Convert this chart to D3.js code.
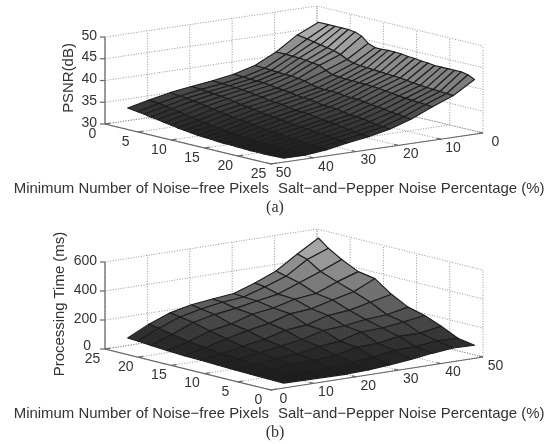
<!DOCTYPE html>
<html>
<head>
<meta charset="utf-8">
<script src="https://cdn.jsdelivr.net/npm/d3@7"></script>
<style>
	html, body { margin: 0; padding: 0; background: #fff; }
	svg { display: block; filter: blur(0.35px); }
	text { font-family: "Liberation Sans", Arial, sans-serif; fill: #333; }
	text.caption { font-family: "Liberation Serif", serif; }
</style>
</head>
<body>
<svg id="chart" width="550" height="444"></svg>
<script>
// panel (a): PSNR, one row per noise percentage, one column per noise-free pixel count
const psnrPixels = [1.5, 3, 4, 5, 6, 7, 8, 9, 10, 11, 12, 13, 14, 15, 16, 17, 18, 19, 20, 21, 22, 23, 24, 25];
const psnrNoise = [2, 7, 12, 17, 22, 27, 32, 37, 42, 47];
const psnrValues = [
	[47.1,47.1,47.1,47.1,47.1,46.9,46.3,45.0,44.4,44.4,44.5,44.5,44.4,44.2,44.1,43.9,43.8,43.6,43.6,43.6,43.6,43.6,43.3,42.6],
	[44.9,44.5,44.2,43.9,43.6,43.3,42.8,42.0,41.5,41.3,41.2,41.1,41.0,40.9,40.8,40.7,40.5,40.3,40.1,40.0,39.9,39.8,39.7,39.6],
	[41.7,41.7,41.6,41.6,41.4,41.2,41.0,40.2,39.6,39.4,39.3,39.3,39.2,39.2,39.1,39.0,38.8,38.6,38.4,38.2,38.1,38.0,37.9,37.7],
	[39.3,39.2,39.1,39.0,38.9,38.9,38.7,38.5,38.0,37.7,37.6,37.6,37.5,37.3,37.2,37.2,37.0,36.7,36.6,36.4,36.1,36.0,35.8,35.6],
	[38.0,37.9,37.8,37.7,37.7,37.5,37.2,37.1,36.9,36.6,36.5,36.4,36.1,35.8,35.8,35.7,35.4,35.1,35.0,34.9,34.6,34.3,34.2,34.0],
	[37.2,37.1,37.0,36.9,36.8,36.6,36.4,36.2,35.8,35.7,35.6,35.3,35.0,35.0,34.9,34.6,34.3,34.2,34.1,33.8,33.5,33.4,33.2,33.0],
	[36.6,36.5,36.3,36.2,36.0,35.8,35.5,35.2,35.0,34.8,34.5,34.3,34.1,33.9,33.7,33.5,33.3,33.2,33.0,32.9,32.7,32.6,32.4,32.3],
	[35.9,35.7,35.5,35.3,35.1,34.8,34.5,34.2,34.0,33.7,33.5,33.3,33.1,32.9,32.7,32.5,32.4,32.2,32.1,31.9,31.8,31.7,31.5,31.4],
	[34.9,34.7,34.4,34.2,33.9,33.6,33.3,33.0,32.8,32.5,32.3,32.1,31.9,31.8,31.6,31.5,31.4,31.3,31.2,31.1,31.0,31.0,30.9,30.9],
	[33.8,33.5,33.3,33.0,32.8,32.5,32.3,32.0,31.8,31.6,31.4,31.3,31.2,31.1,31.0,31.0,30.9,30.9,30.8,30.8,30.8,30.8,30.9,30.9]
];
const psnrTicks = [30, 35, 40, 45, 50];

// panel (b): processing time
const timePixels = [0, 2.5, 5, 7.5, 10, 12.5, 15, 17.5, 20, 22, 23.5];
const timeNoise = [3, 8, 13, 18, 23, 28, 33, 38, 43, 48];
const timeValues = [
	[34,36,38,42,46,50,54,60,68,75,80],
	[32,40,48,55,62,72,85,100,120,140,152],
	[30,44,58,70,85,100,125,150,180,195,207],
	[28,45,66,82,108,126,158,176,212,228,240],
	[34,58,78,110,130,165,185,220,232,252,257],
	[45,72,110,125,170,180,228,240,260,265,272],
	[60,95,115,165,180,222,240,278,285,312,322],
	[80,98,140,170,200,235,278,295,340,362,382],
	[94,115,140,188,210,268,312,352,395,455,476],
	[90,110,165,210,240,300,380,400,455,510,564]
];
const timeTicks = [0, 200, 400, 600];

const pixelTicks = [0, 5, 10, 15, 20, 25];
const noiseTicks = [0, 10, 20, 30, 40, 50];

const svg = d3.select('#chart');

function drawPanel(cfg) {
	var g = svg.append('g');
	var L = cfg.left, F = cfg.front, R = cfg.right;

	var uX = d3.scaleLinear().domain(cfg.uDomain).range([L[0] - F[0], 0]);
	var uY = d3.scaleLinear().domain(cfg.uDomain).range([L[1] - F[1], 0]);
	var pX = d3.scaleLinear().domain(cfg.pDomain).range([0, R[0] - F[0]]);
	var pY = d3.scaleLinear().domain(cfg.pDomain).range([0, R[1] - F[1]]);
	var zY = d3.scaleLinear().domain(cfg.zDomain).range([0, -cfg.height]);
	var shade = d3.scaleLinear().domain(cfg.shadeDomain).range(cfg.shadeRange).clamp(true);

	var project = function(u, p, z) {
		return [F[0] + uX(u) + pX(p), F[1] + uY(u) + pY(p) + zY(z)];
	};
	var line = d3.line();
	var zMin = cfg.zDomain[0], zMax = cfg.zDomain[1];
	var uAtLeft = cfg.uDomain[0], uAtFront = cfg.uDomain[1];
	var pAtFront = cfg.pDomain[0], pAtRight = cfg.pDomain[1];

	// grids on the two back walls and the floor
	var grid = g.append('g').attr('fill', 'none').attr('stroke', '#8a8a8a')
		.attr('stroke-width', 0.9).attr('stroke-dasharray', '1,1.6');
	cfg.zTicks.forEach(z => {
		grid.append('path').attr('d', line([project(uAtLeft, pAtFront, z), project(uAtLeft, pAtRight, z), project(uAtFront, pAtRight, z)]));
	});
	noiseTicks.forEach(p => {
		grid.append('path').attr('d', line([project(uAtFront, p, zMin), project(uAtLeft, p, zMin), project(uAtLeft, p, zMax)]));
	});
	pixelTicks.forEach(u => {
		grid.append('path').attr('d', line([project(u, pAtFront, zMin), project(u, pAtRight, zMin), project(u, pAtRight, zMax)]));
	});

	// axes
	var axes = g.append('g').attr('fill', 'none').attr('stroke', '#666').attr('stroke-width', 1.2);
	axes.append('path').attr('d', line([project(uAtLeft, pAtFront, zMax), project(uAtLeft, pAtFront, zMin), F, project(uAtFront, pAtRight, zMin)]));
	cfg.zTicks.forEach(z => {
		var a = project(uAtLeft, pAtFront, z);
		axes.append('path').attr('d', line([a, [a[0] - 5, a[1]]]));
	});
	pixelTicks.forEach(u => {
		var a = project(u, pAtFront, zMin);
		axes.append('path').attr('d', line([a, [a[0] + 5, a[1] - 0.8]]));
	});
	noiseTicks.forEach(p => {
		var a = project(uAtFront, p, zMin);
		axes.append('path').attr('d', line([a, [a[0] - 4, a[1] - 1]]));
	});

	// surface facets, farthest from the front corner first
	var facets = [];
	for (var i = 0; i < cfg.noise.length - 1; i++) {
		for (var j = 0; j < cfg.pixels.length - 1; j++) {
			var u0 = cfg.pixels[j], u1 = cfg.pixels[j + 1], p0 = cfg.noise[i], p1 = cfg.noise[i + 1];
			var v = cfg.values;
			facets.push({
				points: [
					project(u0, p0, v[i][j]),
					project(u1, p0, v[i][j + 1]),
					project(u1, p1, v[i + 1][j + 1]),
					project(u0, p1, v[i + 1][j])
				],
				z: (v[i][j] + v[i][j + 1] + v[i + 1][j] + v[i + 1][j + 1]) / 4,
				depth: uX(u0) * -1 + pX(p0) + uX(u1) * -1 + pX(p1)
			});
		}
	}
	facets.sort((a, b) => b.depth - a.depth);
	g.append('g').selectAll('path')
		.data(facets)
		.enter()
		.append('path')
			.attr('d', d => line(d.points) + 'Z')
			.attr('fill', d => shade(d.z))
			.attr('stroke', '#1e1e1e')
			.attr('stroke-width', 1.15)
			.attr('stroke-linejoin', 'round');

	// tick labels
	var labels = g.append('g').attr('font-size', 14);
	cfg.zTicks.forEach(z => {
		var a = project(uAtLeft, pAtFront, z);
		labels.append('text').attr('x', a[0] - 8 + (z == 0 ? -6 : 0)).attr('y', a[1] - 1 + (z == 0 ? -2 : 0))
			.attr('text-anchor', 'end').attr('dominant-baseline', 'middle').text(z);
	});
	pixelTicks.forEach(u => {
		var a = project(u, pAtFront, zMin);
		labels.append('text').attr('x', a[0] - 12.5).attr('y', a[1] + 10)
			.attr('text-anchor', 'middle').attr('dominant-baseline', 'middle').text(u);
	});
	noiseTicks.forEach(p => {
		var a = project(uAtFront, p, zMin);
		labels.append('text').attr('x', a[0] + 12.5).attr('y', a[1] + 9)
			.attr('text-anchor', 'middle').attr('dominant-baseline', 'middle').text(p);
	});

	// titles
	var titles = g.append('g').attr('font-size', 14.95);
	titles.append('text').attr('transform', 'translate(' + cfg.yLabel[0] + ',' + cfg.yLabel[1] + ') rotate(-90)')
		.attr('text-anchor', 'middle').attr('dominant-baseline', 'middle').text(cfg.yTitle);
	titles.append('text').attr('x', 269).attr('y', cfg.xLabelY).attr('text-anchor', 'end')
		.attr('dominant-baseline', 'middle').text('Minimum Number of Noise\u2212free Pixels');
	titles.append('text').attr('x', 278).attr('y', cfg.xLabelY).attr('text-anchor', 'start')
		.attr('dominant-baseline', 'middle').text('Salt\u2212and\u2212Pepper Noise Percentage (%)');
	titles.append('text').attr('class', 'caption').attr('x', 275).attr('y', cfg.capY).attr('text-anchor', 'middle')
		.attr('dominant-baseline', 'middle').attr('font-size', 16).text(cfg.caption);
}

drawPanel({
	left: [105, 124], front: [271, 164], right: [483, 133], height: 87,
	uDomain: [0, 25], pDomain: [50, 0], zDomain: [30, 50],
	pixels: psnrPixels, noise: psnrNoise, values: psnrValues, zTicks: psnrTicks,
	shadeDomain: [30.5, 34, 38, 42, 47], shadeRange: ['#1c1c1c', '#343434', '#5a5a5a', '#858585', '#b4b4b4'],
	yTitle: 'PSNR(dB)', yLabel: [69, 78], xLabelY: 189, capY: 208, caption: '(a)'
});

drawPanel({
	left: [105, 349], front: [271, 390], right: [483, 357], height: 87,
	uDomain: [25, 0], pDomain: [0, 50], zDomain: [0, 600],
	pixels: timePixels, noise: timeNoise, values: timeValues, zTicks: timeTicks,
	shadeDomain: [30, 100, 250, 400, 560], shadeRange: ['#1c1c1c', '#2c2c2c', '#5e5e5e', '#8a8a8a', '#b4b4b4'],
	yTitle: 'Processing Time (ms)', yLabel: [60, 304], xLabelY: 414, capY: 433, caption: '(b)'
});
</script>
</body>
</html>
